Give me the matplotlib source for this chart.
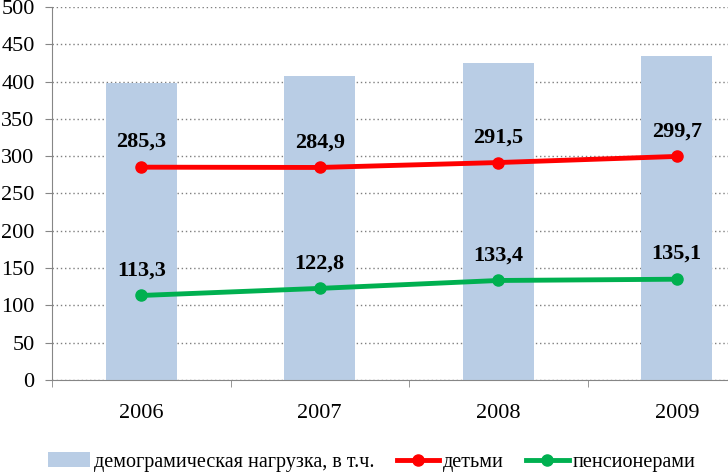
import matplotlib
matplotlib.use("Agg")
import matplotlib.pyplot as plt
import numpy as np

plt.rcParams["font.family"] = ["Liberation Serif", "DejaVu Serif"]

years = ["2006", "2007", "2008", "2009"]
total = [398.6, 407.7, 424.9, 434.8]
children = [285.3, 284.9, 291.5, 299.7]
pensioners = [113.3, 122.8, 133.4, 135.1]
children_labels = ["285,3", "284,9", "291,5", "299,7"]
pensioners_labels = ["113,3", "122,8", "133,4", "135,1"]

fig = plt.figure(figsize=(7.28, 4.73), dpi=100)
ax = fig.add_axes([52 / 728, (473 - 380) / 473, 714 / 728, 373 / 473])

x = np.arange(len(years))
bars = ax.bar(x, total, width=0.4, color="#B9CDE5", zorder=2,
              label="демограмическая нагрузка, в т.ч.")
l1, = ax.plot(x, children, color="#FF0000", lw=3.5, marker="o", ms=8, zorder=3,
              label="детьми")
l2, = ax.plot(x, pensioners, color="#00B050", lw=3.5, marker="o", ms=8, zorder=3,
              label="пенсионерами")

for xi, v, t in zip(x, children, children_labels):
    ax.annotate(t, (xi, v), xytext=(0, 14.5), textcoords="offset points",
                ha="center", va="baseline", fontsize=16, fontweight="bold")
for xi, v, t in zip(x, pensioners, pensioners_labels):
    ax.annotate(t, (xi, v), xytext=(0, 14.5), textcoords="offset points",
                ha="center", va="baseline", fontsize=16, fontweight="bold")

ax.set_xlim(-0.5, 3.5)
ax.set_ylim(0, 500)
ax.set_yticks(range(0, 501, 50))
ax.set_xticks(x)
ax.set_xticklabels(years)
ax.set_xticks(np.arange(-0.5, 4, 1), minor=True)
ax.tick_params(axis="x", which="major", length=0, pad=17, labelsize=16)
ax.tick_params(axis="x", which="minor", length=5, color="#868686")
ax.tick_params(axis="y", length=5, color="#868686", labelsize=16, pad=7.5)
ax.grid(axis="y", ls=(0, (1, 2)), color="#7F7F7F", lw=1, zorder=0)
for s in ["top", "right"]:
    ax.spines[s].set_visible(False)
for s in ["left", "bottom"]:
    ax.spines[s].set_color("#868686")

fig.legend([bars, l1, l2], [bars.get_label(), l1.get_label(), l2.get_label()],
           loc="center left", bbox_to_anchor=(48 / 728, 1 - 462 / 473), ncol=3,
           frameon=False, fontsize=14.5, handlelength=2.1, handletextpad=0.2,
           columnspacing=1.1, borderpad=0, borderaxespad=0)

fig.savefig("out.png", dpi=100)
